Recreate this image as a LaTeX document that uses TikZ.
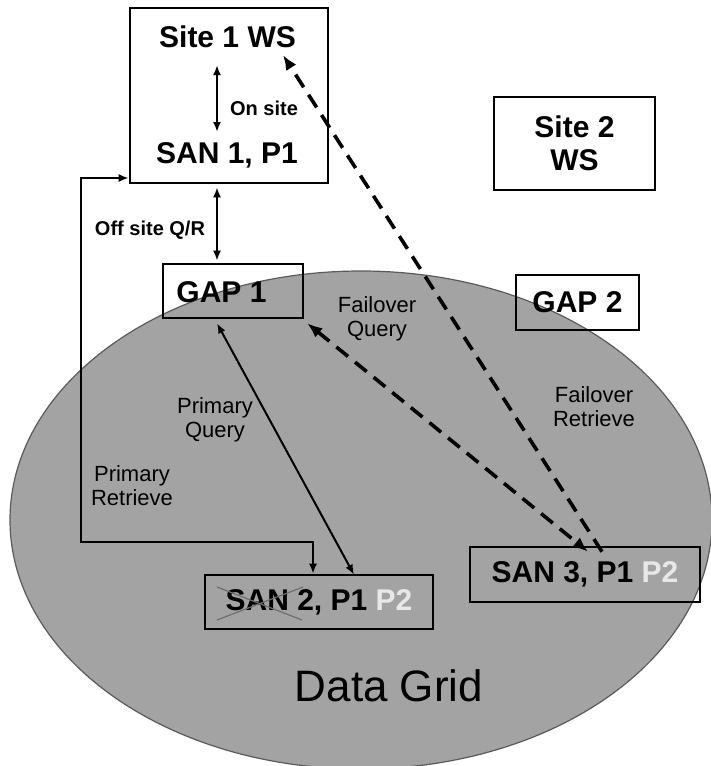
\documentclass[tikz,border=0pt]{standalone}
\usepackage{fontspec}
\setmainfont{Liberation Sans}
\usetikzlibrary{arrows.meta,calc}

\definecolor{gridfill}{HTML}{A3A3A3}
\definecolor{gridedge}{HTML}{5A5A5A}
\definecolor{faded}{HTML}{E8E8E8}
\definecolor{crossgray}{HTML}{6E6E6E}

\tikzset{
  box/.style={draw=black, line width=2.6pt, inner sep=0pt, align=center,
    font=\fontsize{30}{33}\selectfont\bfseries},
  boxtxt/.style={inner sep=0pt, font=\fontsize{30}{33}\selectfont\bfseries},
  lbl/.style={inner sep=0pt, align=center, font=\fontsize{22}{24.5}\selectfont},
  lblb/.style={inner sep=0pt, font=\fontsize{20}{22}\selectfont\bfseries},
  smalltip/.tip={Latex[length=10pt,width=8pt]},
  bigtip/.tip={Latex[length=15pt,width=12pt]},
  link/.style={line width=2pt, smalltip-smalltip},
  dashlink/.style={line width=3.6pt, dash pattern=on 15pt off 9pt},
}

\begin{document}
\begin{tikzpicture}[x=1pt,y=-1pt]
\useasboundingbox (0,0) rectangle (710,766);

% the data grid
\draw[fill=gridfill, draw=gridedge, line width=1.2pt] (361,520) ellipse [x radius=351, y radius=249];
\node[inner sep=0pt, font=\fontsize{44}{48}\selectfont] (grid) at (389,686) {Data Grid};

% sites, gateways and storage nodes
\node[box, minimum width=198pt, minimum height=175pt] (site1) at (229,95.5) {};
\node[boxtxt, anchor=base] (ws1) at (227.5,47) {Site 1 WS};
\node[boxtxt, anchor=base] (san1) at (227,163) {SAN 1, P1};

\node[box, minimum width=161pt, minimum height=93pt] (site2) at (574.5,143.5) {Site 2\\WS};

\node[box, minimum width=140pt, minimum height=54pt] (gap1) at (233,291) {};
\node[boxtxt] (gap1txt) at (221.5,292.5) {GAP 1};
\node[box, minimum width=123pt, minimum height=55pt] (gap2) at (577.5,302.5) {GAP 2};

\node[box, minimum width=228pt, minimum height=54pt] (san2) at (319,602)
  {SAN 2, P1 \textcolor{faded}{P2}};
\node[box, minimum width=230pt, minimum height=55pt] (san3) at (585,574.5)
  {SAN 3, P1 \textcolor{faded}{P2}};

% SAN 2 is out of service
\draw[crossgray, line width=1.2pt] ($(san2.center)+(-102,-15)$) -- ($(san2.center)+(-17,18)$);
\draw[crossgray, line width=1.2pt] ($(san2.center)+(-102,18)$) -- ($(san2.center)+(-16,-15)$);

% on-site and off-site links
\draw[link] ([xshift=-10.5pt,yshift=-18pt]ws1.base) -- ([xshift=-10pt,yshift=31pt]san1.base);
\node[lblb] (onsite) at (264,108) {On site};

\draw[link] ([xshift=-12pt,yshift=-3pt]site1.south) -- ([xshift=-16pt,yshift=2pt]gap1.north);
\node[lblb] (offsite) at (150,230) {Off site Q/R};

% primary path
\draw[link] ([xshift=-16pt,yshift=-4pt]gap1.south) -- ([xshift=35pt,yshift=-1pt]san2.north);
\node[lbl] (pq) at (215,420) {Primary\\Query};

\coordinate (bend) at (81,542);
\draw[link] ([yshift=-82.5pt]site1.west) -| (bend) -| ([xshift=-6pt]san2.north);
\node[lbl] (pr) at (132,485.5) {Primary\\Retrieve};

% failover path
\draw[dashlink, bigtip-bigtip] ([xshift=3pt,yshift=-4pt]gap1.south east) -- ([xshift=3pt,yshift=-6pt]san3.north);
\node[lbl] (fq) at (377,319) {Failover\\Query};

\draw[dashlink, -bigtip] ([xshift=17pt,yshift=-6pt]san3.north) -- ([xshift=55.5pt,yshift=-8pt]ws1.base);
\node[lbl] (fr) at (594,406.5) {Failover\\Retrieve};
\end{tikzpicture}
\end{document}
